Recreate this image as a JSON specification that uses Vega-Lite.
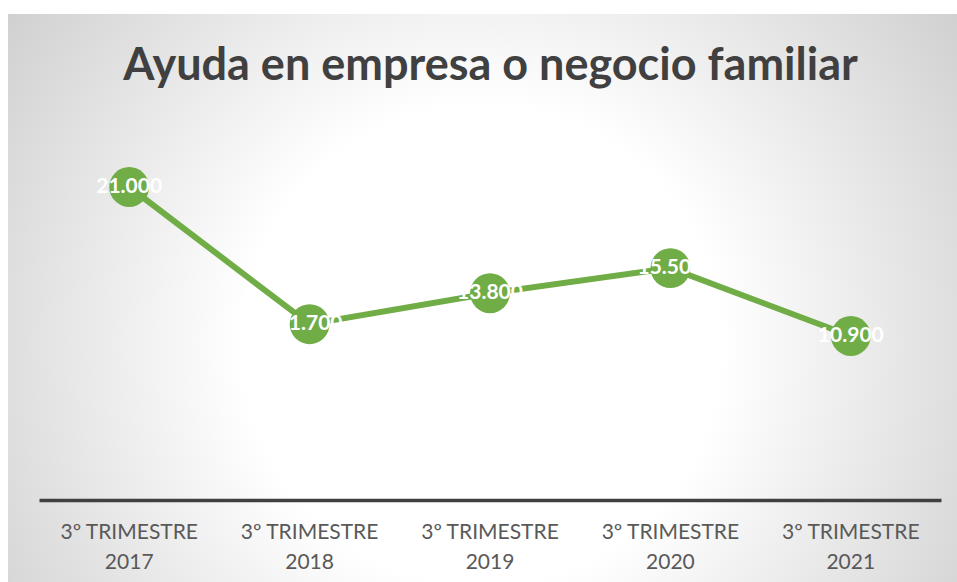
{
  "$schema": "https://vega.github.io/schema/vega-lite/v6.json",
  "width": 949,
  "height": 568,
  "autosize": {"type": "none"},
  "padding": {"left": 8, "top": 14, "right": 0, "bottom": 0},
  "background": "#ffffff",
  "config": {
    "locale": {"number": {"decimal": ",", "thousands": ".", "grouping": [3], "currency": ["", " €"]}},
    "view": {"stroke": null}
  },
  "view": {
    "stroke": null,
    "fill": {
      "gradient": "radial",
      "x1": 0.5, "y1": 0.55, "r1": 0,
      "x2": 0.5, "y2": 0.55, "r2": 0.72,
      "stops": [
        {"offset": 0, "color": "#ffffff"},
        {"offset": 0.35, "color": "#ffffff"},
        {"offset": 1, "color": "#c2c2c2"}
      ]
    }
  },
  "title": {
    "text": "Ayuda en empresa o negocio familiar",
    "font": "Lato",
    "fontSize": 45,
    "fontWeight": "bold",
    "color": "#404040",
    "anchor": "middle",
    "baseline": "alphabetic",
    "offset": -111,
    "dx": 8
  },
  "data": {
    "values": [
      {"periodo": "3º TRIMESTRE 2017", "valor": 21000},
      {"periodo": "3º TRIMESTRE 2018", "valor": 11700},
      {"periodo": "3º TRIMESTRE 2019", "valor": 13800},
      {"periodo": "3º TRIMESTRE 2020", "valor": 15500},
      {"periodo": "3º TRIMESTRE 2021", "valor": 10900}
    ]
  },
  "encoding": {
    "x": {
      "field": "periodo",
      "type": "nominal",
      "sort": null,
      "scale": {"type": "band", "range": [31, 933], "paddingInner": 0, "paddingOuter": 0},
      "axis": {
        "title": null,
        "orient": "bottom",
        "offset": -82,
        "ticks": false,
        "grid": false,
        "domainColor": "#404040",
        "domainWidth": 3.5,
        "labelAngle": 0,
        "labelFont": "Lato",
        "labelFontSize": 21,
        "labelColor": "#595959",
        "labelBaseline": "alphabetic",
        "labelPadding": 38,
        "labelLineHeight": 30,
        "labelExpr": "[slice(datum.label, 0, 12), slice(datum.label, 13)]"
      }
    },
    "y": {
      "field": "valor",
      "type": "quantitative",
      "scale": {"domain": [-5776, 32727], "nice": false, "zero": false},
      "axis": null
    }
  },
  "layer": [
    {"mark": {"type": "line", "color": "#70AD47", "strokeWidth": 6}},
    {"mark": {"type": "point", "filled": true, "size": 1590, "color": "#70AD47", "opacity": 1}},
    {
      "mark": {"type": "text", "font": "Lato", "fontSize": 21, "fontWeight": "bold", "color": "#ffffff", "baseline": "middle", "align": "center"},
      "encoding": {"text": {"field": "valor", "type": "quantitative", "format": ",.0f"}}
    }
  ]
}
